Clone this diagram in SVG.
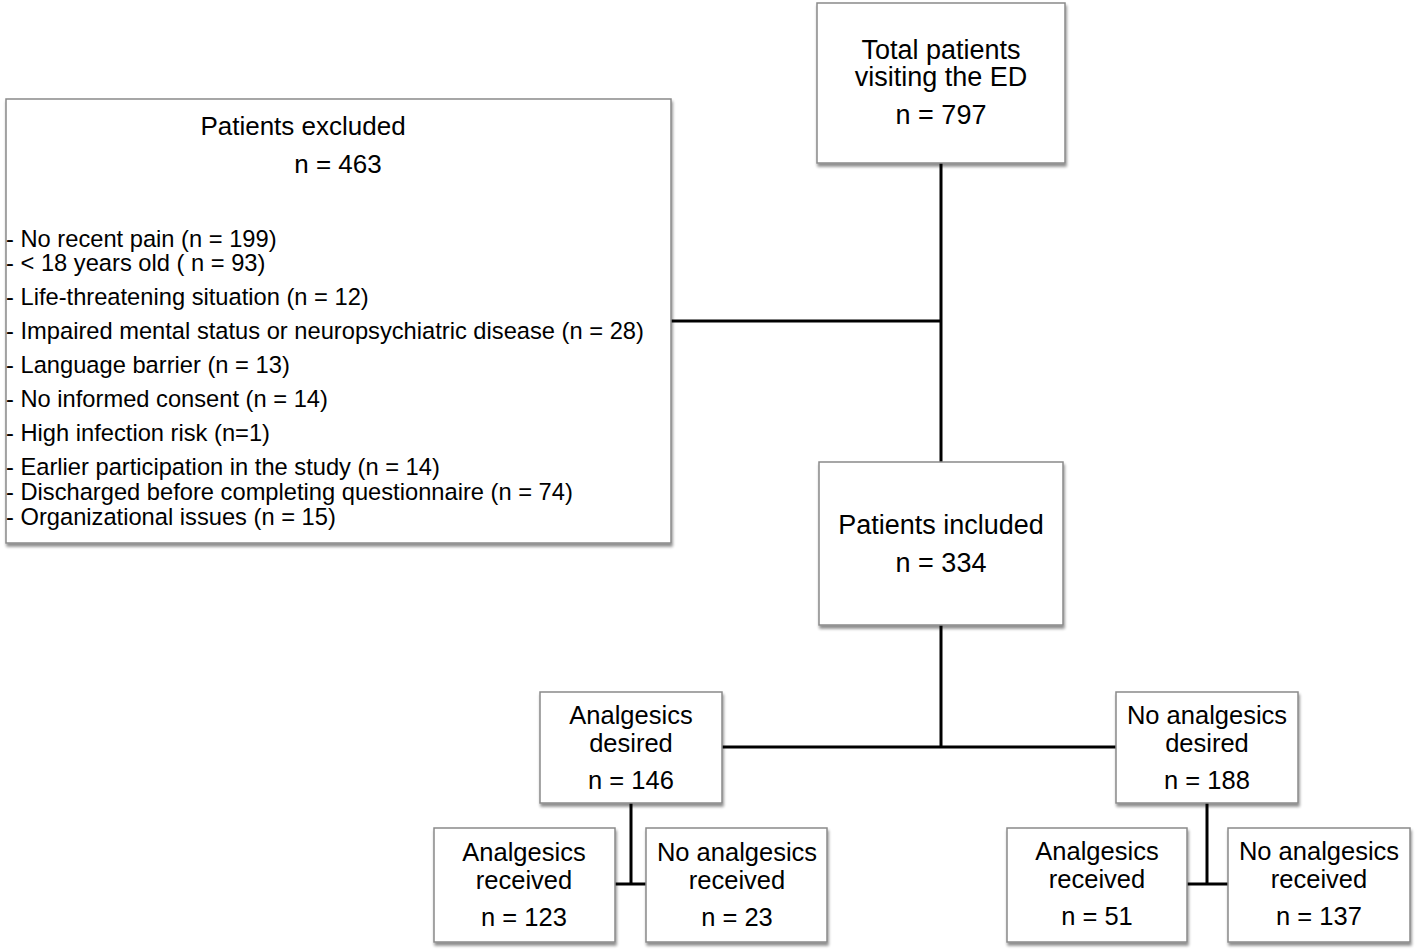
<svg xmlns="http://www.w3.org/2000/svg" width="1417" height="952" viewBox="0 0 1417 952">
<style>
.box{fill:#fff;stroke:#8a8a8a;stroke-width:1.5}
.t{font-family:"Liberation Sans",Arial,sans-serif;fill:#000}
.c{text-anchor:middle}
.big{font-size:27px}
.mid{font-size:25.5px}
.ttl{font-size:26px}
.lst{font-size:23.7px}
.ln{stroke:#000;stroke-width:3;fill:none}
</style>
<defs>
<filter id="ds" x="-5%" y="-5%" width="115%" height="115%">
<feGaussianBlur in="SourceAlpha" stdDeviation="1.5"/>
<feOffset dx="1" dy="3" result="b"/>
<feComponentTransfer><feFuncA type="linear" slope="0.45"/></feComponentTransfer>
<feMerge><feMergeNode/><feMergeNode in="SourceGraphic"/></feMerge>
</filter>
</defs>
<rect width="1417" height="952" fill="#fff"/>
<g id="connectors">
<path class="ln" d="M941 163V462M671 321H941M941 625V747M722 747H1117M631 803V884M615 884H646M1207 803V884M1187 884H1228"/>
</g>
<g id="total">
<rect class="box" x="817" y="3" width="248" height="160" filter="url(#ds)"/>
<text class="t c big" x="941" y="59"><tspan x="941">Total patients</tspan><tspan x="941" dy="27">visiting the ED</tspan></text>
<text class="t c big" x="941" y="124">n = 797</text>
</g>
<g id="excluded">
<rect class="box" x="6" y="99" width="665" height="444" filter="url(#ds)"/>
<text class="t c ttl" x="303" y="135">Patients excluded</text>
<text class="t c ttl" x="338" y="173">n = 463</text>
<text class="t lst" x="6" y="247"><tspan x="6">- No recent pain (n = 199)</tspan><tspan x="6" dy="24">- &lt; 18 years old ( n = 93)</tspan></text>
<text class="t lst" x="6" y="305">- Life-threatening situation (n = 12)</text>
<text class="t lst" x="6" y="339">- Impaired mental status or neuropsychiatric disease (n = 28)</text>
<text class="t lst" x="6" y="373">- Language barrier (n = 13)</text>
<text class="t lst" x="6" y="407">- No informed consent (n = 14)</text>
<text class="t lst" x="6" y="441">- High infection risk (n=1)</text>
<text class="t lst" x="6" y="475"><tspan x="6">- Earlier participation in the study (n = 14)</tspan><tspan x="6" dy="25">- Discharged before completing questionnaire (n = 74)</tspan><tspan x="6" dy="25">- Organizational issues (n = 15)</tspan></text>
</g>
<g id="included">
<rect class="box" x="819" y="462" width="244" height="163" filter="url(#ds)"/>
<text class="t c big" x="941" y="534">Patients included</text>
<text class="t c big" x="941" y="572">n = 334</text>
</g>
<g id="desired">
<rect class="box" x="540" y="692" width="182" height="111" filter="url(#ds)"/>
<text class="t c mid" x="631" y="724"><tspan x="631">Analgesics</tspan><tspan x="631" dy="28">desired</tspan></text>
<text class="t c mid" x="631" y="789">n = 146</text>
</g>
<g id="notdesired">
<rect class="box" x="1116" y="692" width="182" height="111" filter="url(#ds)"/>
<text class="t c mid" x="1207" y="724"><tspan x="1207">No analgesics</tspan><tspan x="1207" dy="28">desired</tspan></text>
<text class="t c mid" x="1207" y="789">n = 188</text>
</g>
<g id="d_received">
<rect class="box" x="434" y="828" width="181" height="114" filter="url(#ds)"/>
<text class="t c mid" x="524" y="861"><tspan x="524">Analgesics</tspan><tspan x="524" dy="28">received</tspan></text>
<text class="t c mid" x="524" y="926">n =  123</text>
</g>
<g id="d_notreceived">
<rect class="box" x="646" y="828" width="181" height="114" filter="url(#ds)"/>
<text class="t c mid" x="737" y="861"><tspan x="737">No analgesics</tspan><tspan x="737" dy="28">received</tspan></text>
<text class="t c mid" x="737" y="926">n =  23</text>
</g>
<g id="nd_received">
<rect class="box" x="1007" y="828" width="180" height="114" filter="url(#ds)"/>
<text class="t c mid" x="1097" y="860"><tspan x="1097">Analgesics</tspan><tspan x="1097" dy="28">received</tspan></text>
<text class="t c mid" x="1097" y="925">n = 51</text>
</g>
<g id="nd_notreceived">
<rect class="box" x="1228" y="828" width="182" height="114" filter="url(#ds)"/>
<text class="t c mid" x="1319" y="860"><tspan x="1319">No analgesics</tspan><tspan x="1319" dy="28">received</tspan></text>
<text class="t c mid" x="1319" y="925">n = 137</text>
</g>
</svg>
